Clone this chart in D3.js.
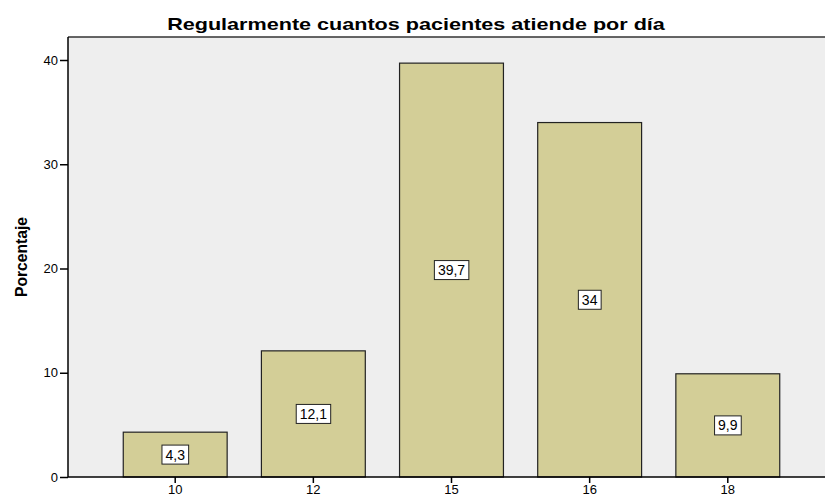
<!DOCTYPE html>
<html>
<head>
<meta charset="utf-8">
<script src="https://cdn.jsdelivr.net/npm/d3@7/dist/d3.min.js"></script>
<style>
  html, body { margin: 0; padding: 0; background: #ffffff; }
  svg { display: block; font-family: Arial, "Liberation Sans", sans-serif; }
</style>
</head>
<body>
<svg id="chart" width="825" height="496"></svg>
<script>
// Patients seen per day and their share (%)
const categories = ["10", "12", "15", "16", "18"];
const percentages = [4.3, 12.1, 39.7, 34, 9.9];
const valueLabels = ["4,3", "12,1", "39,7", "34", "9,9"];
const yTicks = [0, 10, 20, 30, 40];

const svg = d3.select("#chart");
const plot = { left: 68, top: 37, bottom: 477, right: 835 };
const FONT = "Arial, 'Liberation Sans', sans-serif";

const x = d3.scaleBand()
  .domain(categories)
  .range([plot.left, plot.right])
  .paddingInner(0.248)
  .paddingOuter(0.4);

const y = d3.scaleLinear()
  .domain([0, 40])
  .range([plot.bottom, plot.bottom - 417]);

// plot background
svg.append("rect")
  .attr("x", plot.left)
  .attr("y", plot.top)
  .attr("width", plot.right - plot.left)
  .attr("height", plot.bottom - plot.top)
  .attr("fill", "#eeeeee");

// top frame line
svg.append("line")
  .attr("x1", plot.left).attr("x2", plot.right)
  .attr("y1", plot.top).attr("y2", plot.top)
  .attr("stroke", "#333").attr("stroke-width", 1.5);

// bars
svg.append("g").selectAll("rect")
  .data(categories)
  .join("rect")
  .attr("x", d => x(d))
  .attr("y", (d, i) => y(percentages[i]))
  .attr("width", x.bandwidth())
  .attr("height", (d, i) => y(0) - y(percentages[i]))
  .attr("fill", "#d3ce97")
  .attr("stroke", "#222")
  .attr("stroke-width", 1.2);

// value labels in white boxes
const lbl = svg.append("g").selectAll("g")
  .data(categories)
  .join("g")
  .attr("transform", (d, i) => `translate(${x(d) + x.bandwidth() / 2},${y(percentages[i] / 2)})`);

lbl.append("text")
  .attr("text-anchor", "middle")
  .attr("dy", "0.36em")
  .attr("font-size", 14)
  .attr("fill", "#000")
  .text((d, i) => valueLabels[i])
  .each(function () {
    const b = this.getBBox();
    d3.select(this.parentNode).insert("rect", "text")
      .attr("x", b.x - 3.5)
      .attr("y", -9.5)
      .attr("width", b.width + 7)
      .attr("height", 19)
      .attr("fill", "#fff")
      .attr("stroke", "#222")
      .attr("stroke-width", 1);
  });

// y axis
const yAxis = svg.append("g")
  .attr("transform", `translate(${plot.left},0)`)
  .call(d3.axisLeft(y).tickValues(yTicks).tickSize(8).tickPadding(2).tickFormat(d3.format("d")));
yAxis.select(".domain").remove();
yAxis.selectAll(".tick line").attr("stroke", "#000").attr("stroke-width", 1.5);
yAxis.selectAll(".tick text").attr("font-size", 13).attr("fill", "#000").attr("font-family", FONT);
svg.append("line")
  .attr("x1", plot.left).attr("x2", plot.left)
  .attr("y1", plot.top).attr("y2", plot.bottom)
  .attr("stroke", "#000").attr("stroke-width", 1.5);

// x axis
const xAxis = svg.append("g")
  .attr("transform", `translate(0,${plot.bottom})`)
  .call(d3.axisBottom(x).tickSize(6).tickPadding(2));
xAxis.select(".domain").remove();
xAxis.selectAll(".tick line").attr("stroke", "#000").attr("stroke-width", 1.5);
xAxis.selectAll(".tick text").attr("font-size", 13).attr("fill", "#000").attr("font-family", FONT);
svg.append("line")
  .attr("x1", plot.left).attr("x2", plot.right)
  .attr("y1", plot.bottom).attr("y2", plot.bottom)
  .attr("stroke", "#000").attr("stroke-width", 1.5);

// title, drawn slightly widened
svg.append("text")
  .attr("transform", "translate(416,30) scale(1.27,1)")
  .attr("text-anchor", "middle")
  .attr("font-size", 17)
  .attr("font-weight", "bold")
  .attr("fill", "#000")
  .text("Regularmente cuantos pacientes atiende por día");

// y axis title
svg.append("text")
  .attr("transform", "translate(27,257) rotate(-90) scale(0.92,1)")
  .attr("text-anchor", "middle")
  .attr("font-size", 17)
  .attr("font-weight", "bold")
  .attr("font-family", FONT)
  .attr("fill", "#000")
  .text("Porcentaje");
</script>
</body>
</html>
